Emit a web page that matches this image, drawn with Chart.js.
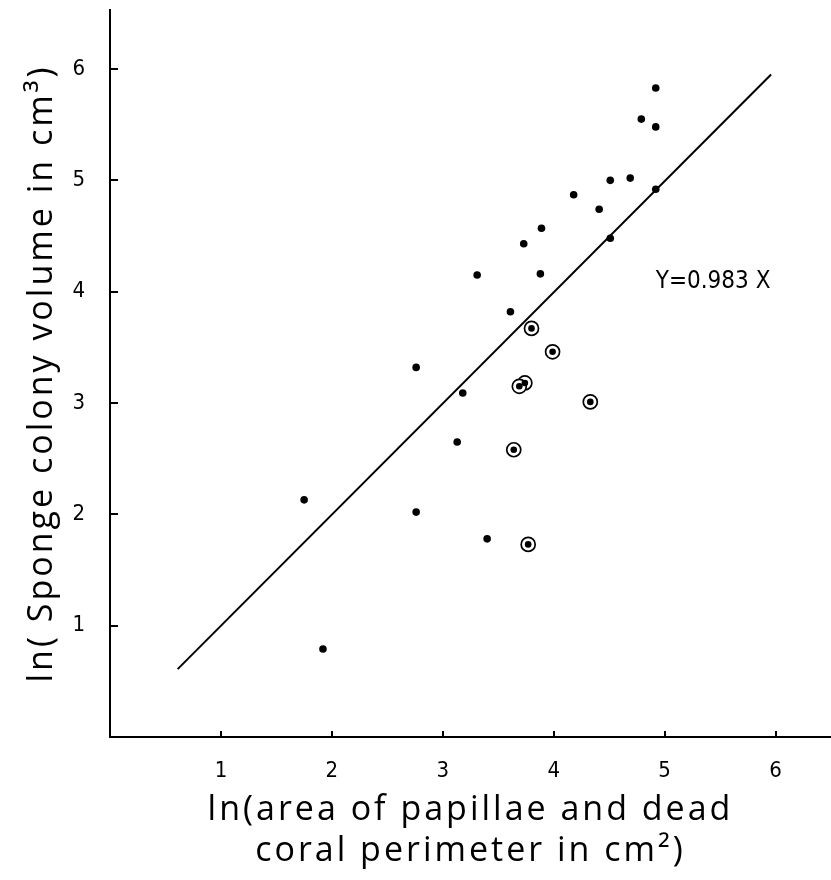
<!DOCTYPE html>
<html>
<head>
<meta charset="utf-8">
<script src="https://cdn.jsdelivr.net/npm/chart.js@4/dist/chart.umd.min.js"></script>
<style>
  html, body { margin: 0; padding: 0; background: #ffffff; }
  #wrap { width: 831px; height: 880px; }
</style>
</head>
<body>
<div id="wrap"><canvas id="c" width="831" height="880"></canvas></div>
<script>
// ---- data ----
const filledX = [4.92, 4.79, 4.92, 4.51, 4.69, 4.92, 4.18, 4.41, 3.89, 3.73, 4.51, 3.31, 3.88, 3.61, 2.76, 3.18, 3.13, 1.75, 2.76, 3.40, 1.92];
const filledY = [5.83, 5.55, 5.48, 5.00, 5.02, 4.92, 4.87, 4.74, 4.57, 4.43, 4.48, 4.15, 4.16, 3.82, 3.32, 3.09, 2.65, 2.13, 2.02, 1.78, 0.79];
const circledX = [3.80, 3.99, 3.74, 3.69, 4.33, 3.64, 3.77];
const circledY = [3.67, 3.46, 3.18, 3.15, 3.01, 2.58, 1.73];
const fitLineX = [0.61, 5.96];
const fitLineY = [0.61, 5.95];
const xTickValues = [1, 2, 3, 4, 5, 6];
const yTickValues = [1, 2, 3, 4, 5, 6];
const equationText = "Y=0.983 X";
const equationAt = [4.92, 4.09];
const xTitleLines = ["ln(area of papillae and dead", "coral perimeter in cm\u00B2)"];
const yTitleText = "ln( Sponge colony volume in cm\u00B3)";

const toPoints = (xs, ys) => xs.map((x, i) => ({ x: x, y: ys[i] }));

// wider letter spacing for the axis titles only (titles are drawn in the first layer)
const titleSpacing = {
  id: 'titleSpacing',
  beforeDraw(chart) { chart.ctx.letterSpacing = '3px'; },
  beforeDatasetsDraw(chart) { chart.ctx.letterSpacing = '0px'; }
};

const inwardTicks = {
  id: 'inwardTicks',
  afterDraw(chart) {
    const ctx = chart.ctx;
    const xs = chart.scales.x, ys = chart.scales.y;
    const area = chart.chartArea;
    ctx.save();
    ctx.letterSpacing = '0px';
    ctx.strokeStyle = '#000';
    ctx.lineWidth = 2;
    yTickValues.forEach(v => {
      const py = Math.round(ys.getPixelForValue(v));
      ctx.beginPath();
      ctx.moveTo(area.left, py);
      ctx.lineTo(area.left + 8, py);
      ctx.stroke();
    });
    xTickValues.forEach(v => {
      const px = Math.round(xs.getPixelForValue(v));
      ctx.beginPath();
      ctx.moveTo(px, area.bottom);
      ctx.lineTo(px, area.bottom - 6);
      ctx.stroke();
    });
    ctx.fillStyle = '#000';
    ctx.font = "24px 'DejaVu Sans Condensed', 'Liberation Sans Narrow', 'DejaVu Sans', sans-serif";
    ctx.textAlign = 'left';
    ctx.textBaseline = 'middle';
    ctx.fillText(equationText, xs.getPixelForValue(equationAt[0]), ys.getPixelForValue(equationAt[1]));
    ctx.restore();
  }
};

const tickFont = { family: "'DejaVu Sans Condensed', 'Liberation Sans Narrow', 'DejaVu Sans', sans-serif", size: 22 };
const titleFont = { family: "'Open Sans', 'Noto Sans', sans-serif", size: 34, lineHeight: 1.2 };

new Chart(document.getElementById('c'), {
  type: 'scatter',
  data: {
    datasets: [
      { label: 'filled', data: toPoints(filledX, filledY), pointRadius: 3.8, pointHoverRadius: 3.8, backgroundColor: '#000', borderWidth: 0, order: 1 },
      { label: 'circled dot', data: toPoints(circledX, circledY), pointRadius: 3.3, pointHoverRadius: 3.3, backgroundColor: '#000', borderWidth: 0, order: 1 },
      { label: 'circled ring', data: toPoints(circledX, circledY), pointRadius: 7, pointHoverRadius: 7, backgroundColor: '#fff', borderColor: '#000', borderWidth: 1.7, order: 2 },
      { label: 'fit', type: 'line', data: toPoints(fitLineX, fitLineY), showLine: true, borderColor: '#000', borderWidth: 2, pointRadius: 0, fill: false, order: 3 }
    ]
  },
  options: {
    responsive: false,
    devicePixelRatio: 1,
    animation: false,
    events: [],
    layout: { autoPadding: false, padding: { top: 10, right: 0, bottom: 0, left: 0 } },
    plugins: { legend: { display: false }, tooltip: { enabled: false } },
    scales: {
      x: {
        type: 'linear',
        min: 0,
        max: 6.5,
        afterBuildTicks: s => { s.ticks = xTickValues.map(v => ({ value: v })); },
        afterFit: s => { s.height = 143; s.paddingLeft = 0; s.paddingRight = 0; },
        grid: { display: true, drawOnChartArea: false, drawTicks: false },
        border: { display: true, color: '#000', width: 2 },
        ticks: { color: '#000', font: tickFont, padding: 21, maxRotation: 0, z: 1 },
        title: { display: true, text: xTitleLines, color: '#000', font: titleFont, padding: { top: 0, bottom: 8 } }
      },
      y: {
        type: 'linear',
        min: 0,
        max: 6.53,
        afterBuildTicks: s => { s.ticks = yTickValues.map(v => ({ value: v })); },
        afterFit: s => { s.width = 110; s.paddingTop = 0; s.paddingBottom = 0; },
        grid: { display: true, drawOnChartArea: false, drawTicks: false },
        border: { display: true, color: '#000', width: 2 },
        ticks: { color: '#000', font: tickFont, padding: 25, z: 1 },
        title: { display: true, text: yTitleText, color: '#000', font: titleFont, padding: { top: 22, bottom: 0 } }
      }
    }
  },
  plugins: [titleSpacing, inwardTicks]
});
</script>
</body>
</html>
